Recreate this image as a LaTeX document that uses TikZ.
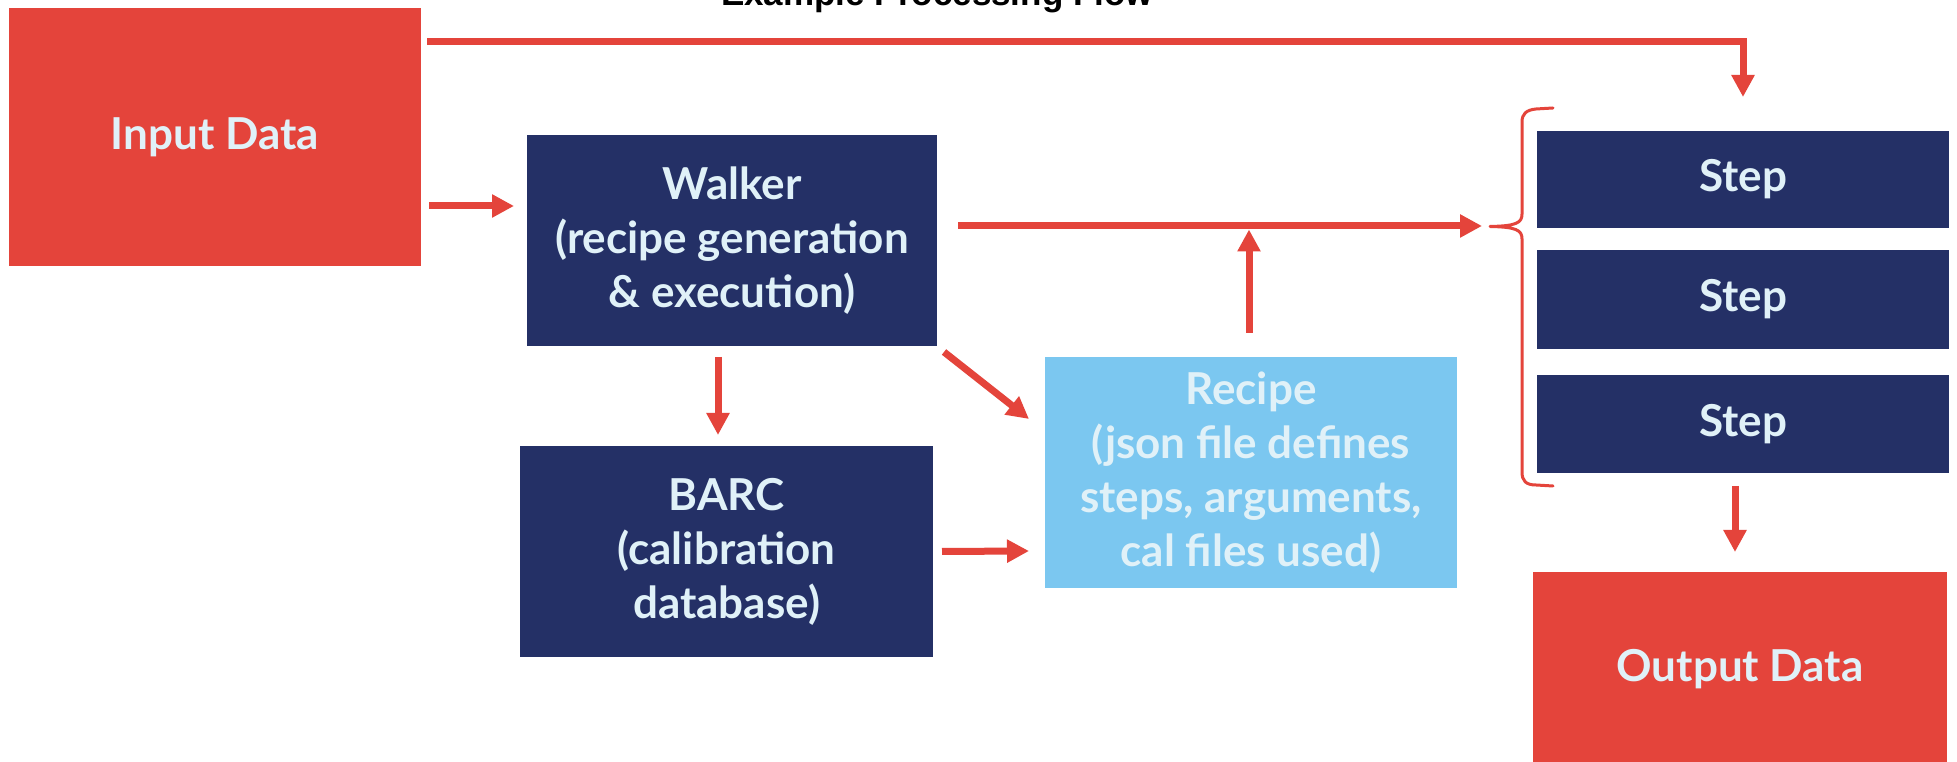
\documentclass[tikz,border=0pt]{standalone}
\usepackage{fontspec}
\setmainfont{Lato}
\newfontfamily\titlefont{Liberation Sans}
\usetikzlibrary{arrows.meta,calc}
\definecolor{redc}{HTML}{E4443B}
\definecolor{navy}{HTML}{243066}
\definecolor{skyb}{HTML}{7BC7F0}
\definecolor{txt}{HTML}{E0F1F8}
\begin{document}
\begin{tikzpicture}[x=1pt,y=1pt,
  box/.style={rectangle, inner sep=0pt, outer sep=0pt, align=center, text=txt,
    font=\fontsize{44}{54}\selectfont\bfseries, minimum width=412pt},
  navybox/.style={box, fill=navy},
  redbox/.style={box, fill=redc},
  skybox/.style={box, fill=skyb},
  arr/.style={draw=redc, line width=7pt, -{Triangle[length=22pt,width=22pt]}},
  bracestyle/.style={draw=redc, line width=3pt, line cap=round, line join=round}]
\useasboundingbox (0,0) rectangle (1957,762);
\fill[white] (0,0) rectangle (1957,762);

\node[font={\titlefont\fontsize{35}{40}\selectfont\bfseries}, anchor=base, text=black] (title) at (937,756) {Example Processing Flow};

\node[redbox, minimum height=258pt] (in) at (215,625) {Input Data};
\node[navybox, minimum width=410pt, minimum height=211pt] (walker) at (732,521.5) {Walker\\(recipe generation\\\& execution)};
\node[navybox, minimum width=413pt, minimum height=211pt] (barc) at (726.5,210.5) {BARC\\(calibration\\database)};
\node[skybox, minimum height=231pt] (recipe) at (1251,289.5) {Recipe\\(json file defines\\steps, arguments,\\cal files used)};
\node[navybox, minimum height=97pt] (s1) at (1743,582.5) {Step};
\node[navybox, minimum height=99pt] (s2) at (1743,462.5) {Step};
\node[navybox, minimum height=98pt] (s3) at (1743,338) {Step};
\node[redbox, minimum width=414pt, minimum height=194pt] (out) at (1740,93) {Output Data};

% brace
\coordinate (btip) at (1482,536);
\draw[bracestyle] (1553,654) -- (1536,653) .. controls (1526,652) and (1522,648) .. (1522,640)
  -- (1522,548) .. controls (1522,539) and (1516,536) .. (1490,535.5)
  .. controls (1516,535) and (1522,532) .. (1522,523)
  -- (1522,290) .. controls (1522,281) and (1526,277) .. (1536,277) -- (1553,276);

% connectors
\draw[arr] ([shift={(6pt,-34pt)}]in.north east) -| ([yshift=34pt]s1.north);
\draw[arr] ([shift={(8pt,-69pt)}]in.east) -- ([shift={(-13pt,34.5pt)}]walker.west);
\draw[arr] ([shift={(21pt,14.5pt)}]walker.east) -- (btip);
\draw[arr] ([shift={(-2pt,24pt)}]recipe.north) -- ($(recipe.north |- btip)+(-2,-3.5)$);
\draw[arr] ([shift={(-14pt,-11pt)}]walker.south) -- ([shift={(-8.5pt,11pt)}]barc.north);
\draw[arr] ([shift={(7pt,-6pt)}]walker.south east) -- ([shift={(-16pt,-62pt)}]recipe.north west);
\draw[arr] ([xshift=9pt]barc.east) -- ([shift={(-16pt,-78.5pt)}]recipe.west);
\draw[arr] ([shift={(-8pt,-13pt)}]s3.south) -- ([shift={(-5pt,20pt)}]out.north);
\end{tikzpicture}
\end{document}
